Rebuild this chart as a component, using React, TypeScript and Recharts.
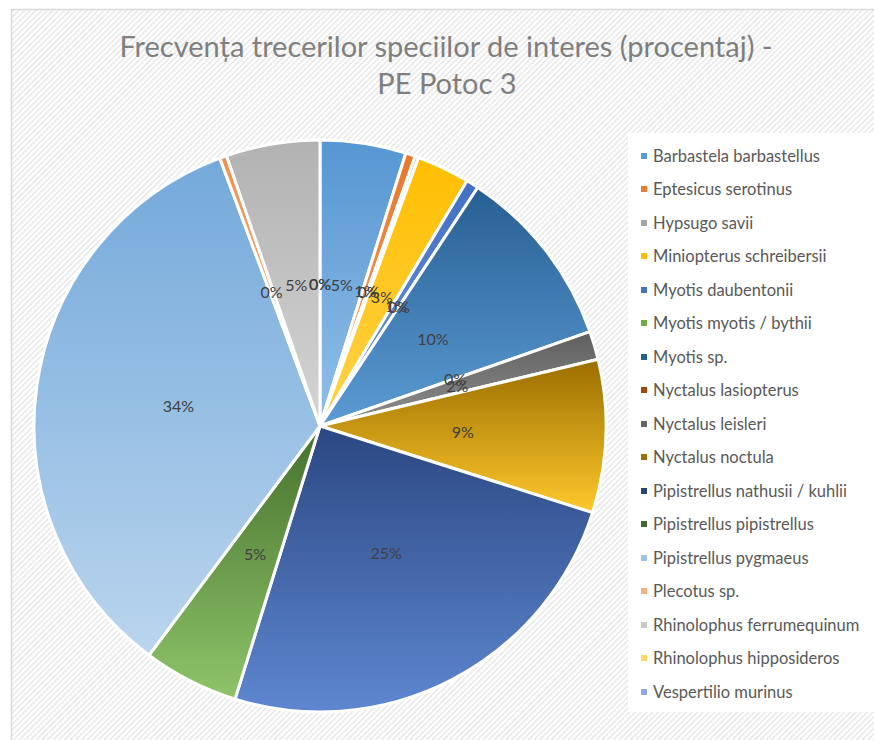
import React from 'react';
import { PieChart, Pie, Cell, Legend } from 'recharts';

const categories = [
  'Barbastela barbastellus',
  'Eptesicus serotinus',
  'Hypsugo savii',
  'Miniopterus schreibersii',
  'Myotis daubentonii',
  'Myotis myotis / bythii',
  'Myotis sp.',
  'Nyctalus lasiopterus',
  'Nyctalus leisleri',
  'Nyctalus noctula',
  'Pipistrellus nathusii / kuhlii',
  'Pipistrellus pipistrellus',
  'Pipistrellus pygmaeus',
  'Plecotus sp.',
  'Rhinolophus ferrumequinum',
  'Rhinolophus hipposideros',
  'Vespertilio murinus',
];

const values = [4.85, 0.55, 0.2, 3.0, 0.7, 0, 10.35, 0, 1.6, 8.65, 24.9, 5.4, 34.1, 0.4, 5.3, 0, 0];

const baseColors = [
  '#5B9BD5', '#ED7D31', '#A5A5A5', '#FFC000', '#4472C4', '#70AD47', '#255E91', '#9E480E',
  '#636363', '#997300', '#264478', '#43682B', '#9DC3E6', '#F4B183', '#C9C9C9', '#FFD966', '#8FAADC',
];

const topColors = [
  '#5696d2', '#e8772b', '#a0a0a0', '#ffbe00', '#416fc2', '#6aa642', '#275f93', '#9a460d',
  '#5f5f5f', '#9a6e00', '#2b4782', '#45712c', '#74a9da', '#f0914f', '#b2b2b2', '#ffd45a', '#869fd6',
];

const bottomColors = [
  '#93bfe8', '#f6a46d', '#c9c9c9', '#ffd24a', '#7099dc', '#90c46b', '#5c9bd4', '#c76a2c',
  '#8e8e8e', '#ffc82c', '#5e87d0', '#8fc46a', '#bad5ee', '#f7bd93', '#d4d4d4', '#ffe38f', '#a9bfe6',
];

const titleLines = ['Frecvența trecerilor speciilor de interes (procentaj) -', 'PE Potoc 3'];

const data = categories.map((name, i) => ({ name, value: values[i] }));

const FONT = 'Lato, "Open Sans", sans-serif';
const RAD = Math.PI / 180;

const renderLabel = (props: any) => {
  const { cx, cy, midAngle, outerRadius, percent, index } = props;
  const r = outerRadius * 0.5;
  const x = cx + r * Math.cos(-midAngle * RAD);
  const y = cy + r * Math.sin(-midAngle * RAD);
  return (
    <text
      key={`lbl-${index}`}
      x={x}
      y={y}
      textAnchor="middle"
      dominantBaseline="central"
      fill="#404040"
      style={{ fontFamily: FONT, fontSize: 16 }}
    >
      {`${Math.round((percent || 0) * 100)}%`}
    </text>
  );
};

const renderLegend = () => (
  <div
    style={{
      background: '#ffffff',
      width: 246,
      height: 579,
      boxSizing: 'border-box',
      paddingTop: 6,
      fontFamily: FONT,
    }}
  >
    {categories.map((name, i) => (
      <div
        key={name}
        style={{
          height: 33.5,
          display: 'flex',
          alignItems: 'center',
          fontSize: 16.5,
          color: '#595959',
          whiteSpace: 'nowrap',
        }}
      >
        <span
          style={{
            display: 'inline-block',
            width: 6,
            height: 6,
            marginLeft: 13,
            marginRight: 6,
            background: baseColors[i],
          }}
        />
        <span>{name}</span>
      </div>
    ))}
  </div>
);

export default function App() {
  return (
    <div style={{ position: 'absolute', left: 0, top: 0, width: 874, height: 740, overflow: 'hidden', background: '#fff' }}>
      <svg width={874} height={740} style={{ position: 'absolute', left: 0, top: 0 }}>
        <defs>
          <pattern id="hatch" width="4" height="4" patternUnits="userSpaceOnUse" patternTransform="rotate(45)">
            <rect width="4" height="4" fill="#ffffff" />
            <rect width="1.5" height="4" fill="#e6e6e6" />
          </pattern>
        </defs>
        <rect x={11.5} y={9.5} width={900} height={800} fill="url(#hatch)" stroke="#d9d9d9" strokeWidth={1.5} />
        <text x={446} y={57} textAnchor="middle" fill="#7f7f7f" style={{ fontFamily: FONT, fontSize: 29 }}>
          {titleLines[0]}
        </text>
        <text x={447} y={94} textAnchor="middle" fill="#7f7f7f" style={{ fontFamily: FONT, fontSize: 29 }}>
          {titleLines[1]}
        </text>
      </svg>
      <div style={{ position: 'absolute', left: 0, top: 0 }}>
        <PieChart width={874} height={740} margin={{ top: 0, right: 0, bottom: 0, left: 0 }}>
          <defs>
            {categories.map((_, i) => (
              <linearGradient key={i} id={`g${i}`} x1="0" y1="0" x2="0" y2="1">
                <stop offset="0%" stopColor={topColors[i]} />
                <stop offset="100%" stopColor={bottomColors[i]} />
              </linearGradient>
            ))}
          </defs>
          <Pie
            data={data}
            dataKey="value"
            nameKey="name"
            cx={320}
            cy={426}
            outerRadius={286}
            startAngle={90}
            endAngle={-270}
            stroke="#ffffff"
            strokeWidth={3}
            label={renderLabel}
            labelLine={false}
            isAnimationActive={false}
          >
            {data.map((_, i) => (
              <Cell key={i} fill={`url(#g${i})`} />
            ))}
          </Pie>
          <Legend
            layout="vertical"
            align="right"
            verticalAlign="top"
            content={renderLegend}
            wrapperStyle={{ left: 628, top: 133, width: 246, height: 579 }}
          />
        </PieChart>
      </div>
    </div>
  );
}
